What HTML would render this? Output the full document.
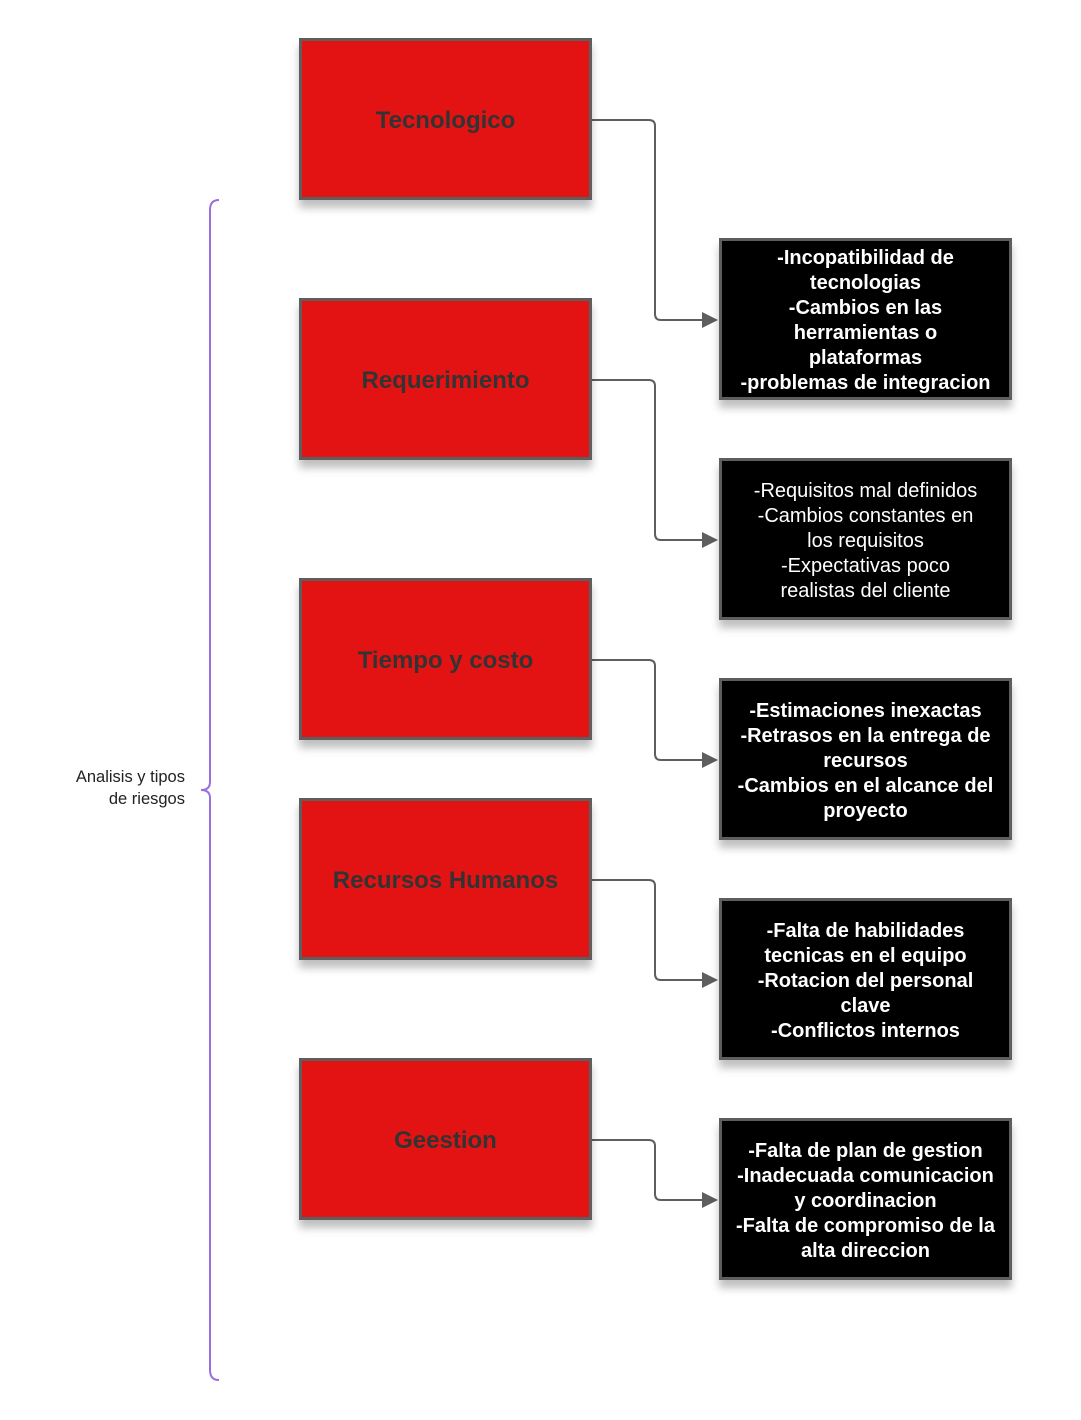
<!DOCTYPE html>
<html><head><style>
body{margin:0;width:1081px;height:1420px;background:#fff;position:relative;font-family:"Liberation Sans",sans-serif;overflow:hidden}
.r{position:absolute;left:299px;width:287px;height:156px;background:#e31313;border:3px solid #5e5e5e;box-shadow:0 8px 8px rgba(0,0,0,.25);display:flex;align-items:center;justify-content:center;color:#333;font-weight:bold;font-size:24px;padding-top:4px;box-sizing:content-box;height:152px}
.b{position:absolute;left:719px;width:287px;height:152px;padding-top:4px;background:#000;border:3px solid #5e5e5e;box-shadow:0 8px 8px rgba(0,0,0,.25);display:flex;align-items:center;justify-content:center;text-align:center;color:#fff;font-weight:bold;font-size:20px;line-height:25px}
.n{font-weight:normal}
.lbl{position:absolute;right:896px;top:766px;text-align:right;font-size:16.5px;line-height:22px;color:#222}
</style></head><body>
<svg width="1081" height="1420" style="position:absolute;left:0;top:0">
<path d="M219 200 Q210 200 210 210 L210 782 Q210 790 201 790 Q210 790 210 798 L210 1370 Q210 1380 219 1380" fill="none" stroke="#9b6fe0" stroke-width="2"/>
<g fill="none" stroke="#5e5e5e" stroke-width="2">
<path d="M591 120 H649 Q655 120 655 126 V314 Q655 320 661 320 H705"/>
<path d="M591 380 H649 Q655 380 655 386 V534 Q655 540 661 540 H705"/>
<path d="M591 660 H649 Q655 660 655 666 V754 Q655 760 661 760 H705"/>
<path d="M591 880 H649 Q655 880 655 886 V974 Q655 980 661 980 H705"/>
<path d="M591 1140 H649 Q655 1140 655 1146 V1194 Q655 1200 661 1200 H705"/>
</g>
<g fill="#5e5e5e">
<path d="M702 312 L718 320 L702 328Z"/><path d="M702 532 L718 540 L702 548Z"/><path d="M702 752 L718 760 L702 768Z"/><path d="M702 972 L718 980 L702 988Z"/><path d="M702 1192 L718 1200 L702 1208Z"/>
</g>
</svg>
<div class="lbl">Analisis y tipos<br>de riesgos</div>
<div class="r" style="top:38px">Tecnologico</div>
<div class="r" style="top:298px">Requerimiento</div>
<div class="r" style="top:578px">Tiempo y costo</div>
<div class="r" style="top:798px">Recursos Humanos</div>
<div class="r" style="top:1058px">Geestion</div>
<div class="b" style="top:238px">-Incopatibilidad de<br>tecnologias<br>-Cambios en las<br>herramientas o<br>plataformas<br>-problemas de integracion</div>
<div class="b n" style="top:458px">-Requisitos mal definidos<br>-Cambios constantes en<br>los requisitos<br>-Expectativas poco<br>realistas del cliente</div>
<div class="b" style="top:678px">-Estimaciones inexactas<br>-Retrasos en la entrega de<br>recursos<br>-Cambios en el alcance del<br>proyecto</div>
<div class="b" style="top:898px">-Falta de habilidades<br>tecnicas en el equipo<br>-Rotacion del personal<br>clave<br>-Conflictos internos</div>
<div class="b" style="top:1118px">-Falta de plan de gestion<br>-Inadecuada comunicacion<br>y coordinacion<br>-Falta de compromiso de la<br>alta direccion</div>
</body></html>
